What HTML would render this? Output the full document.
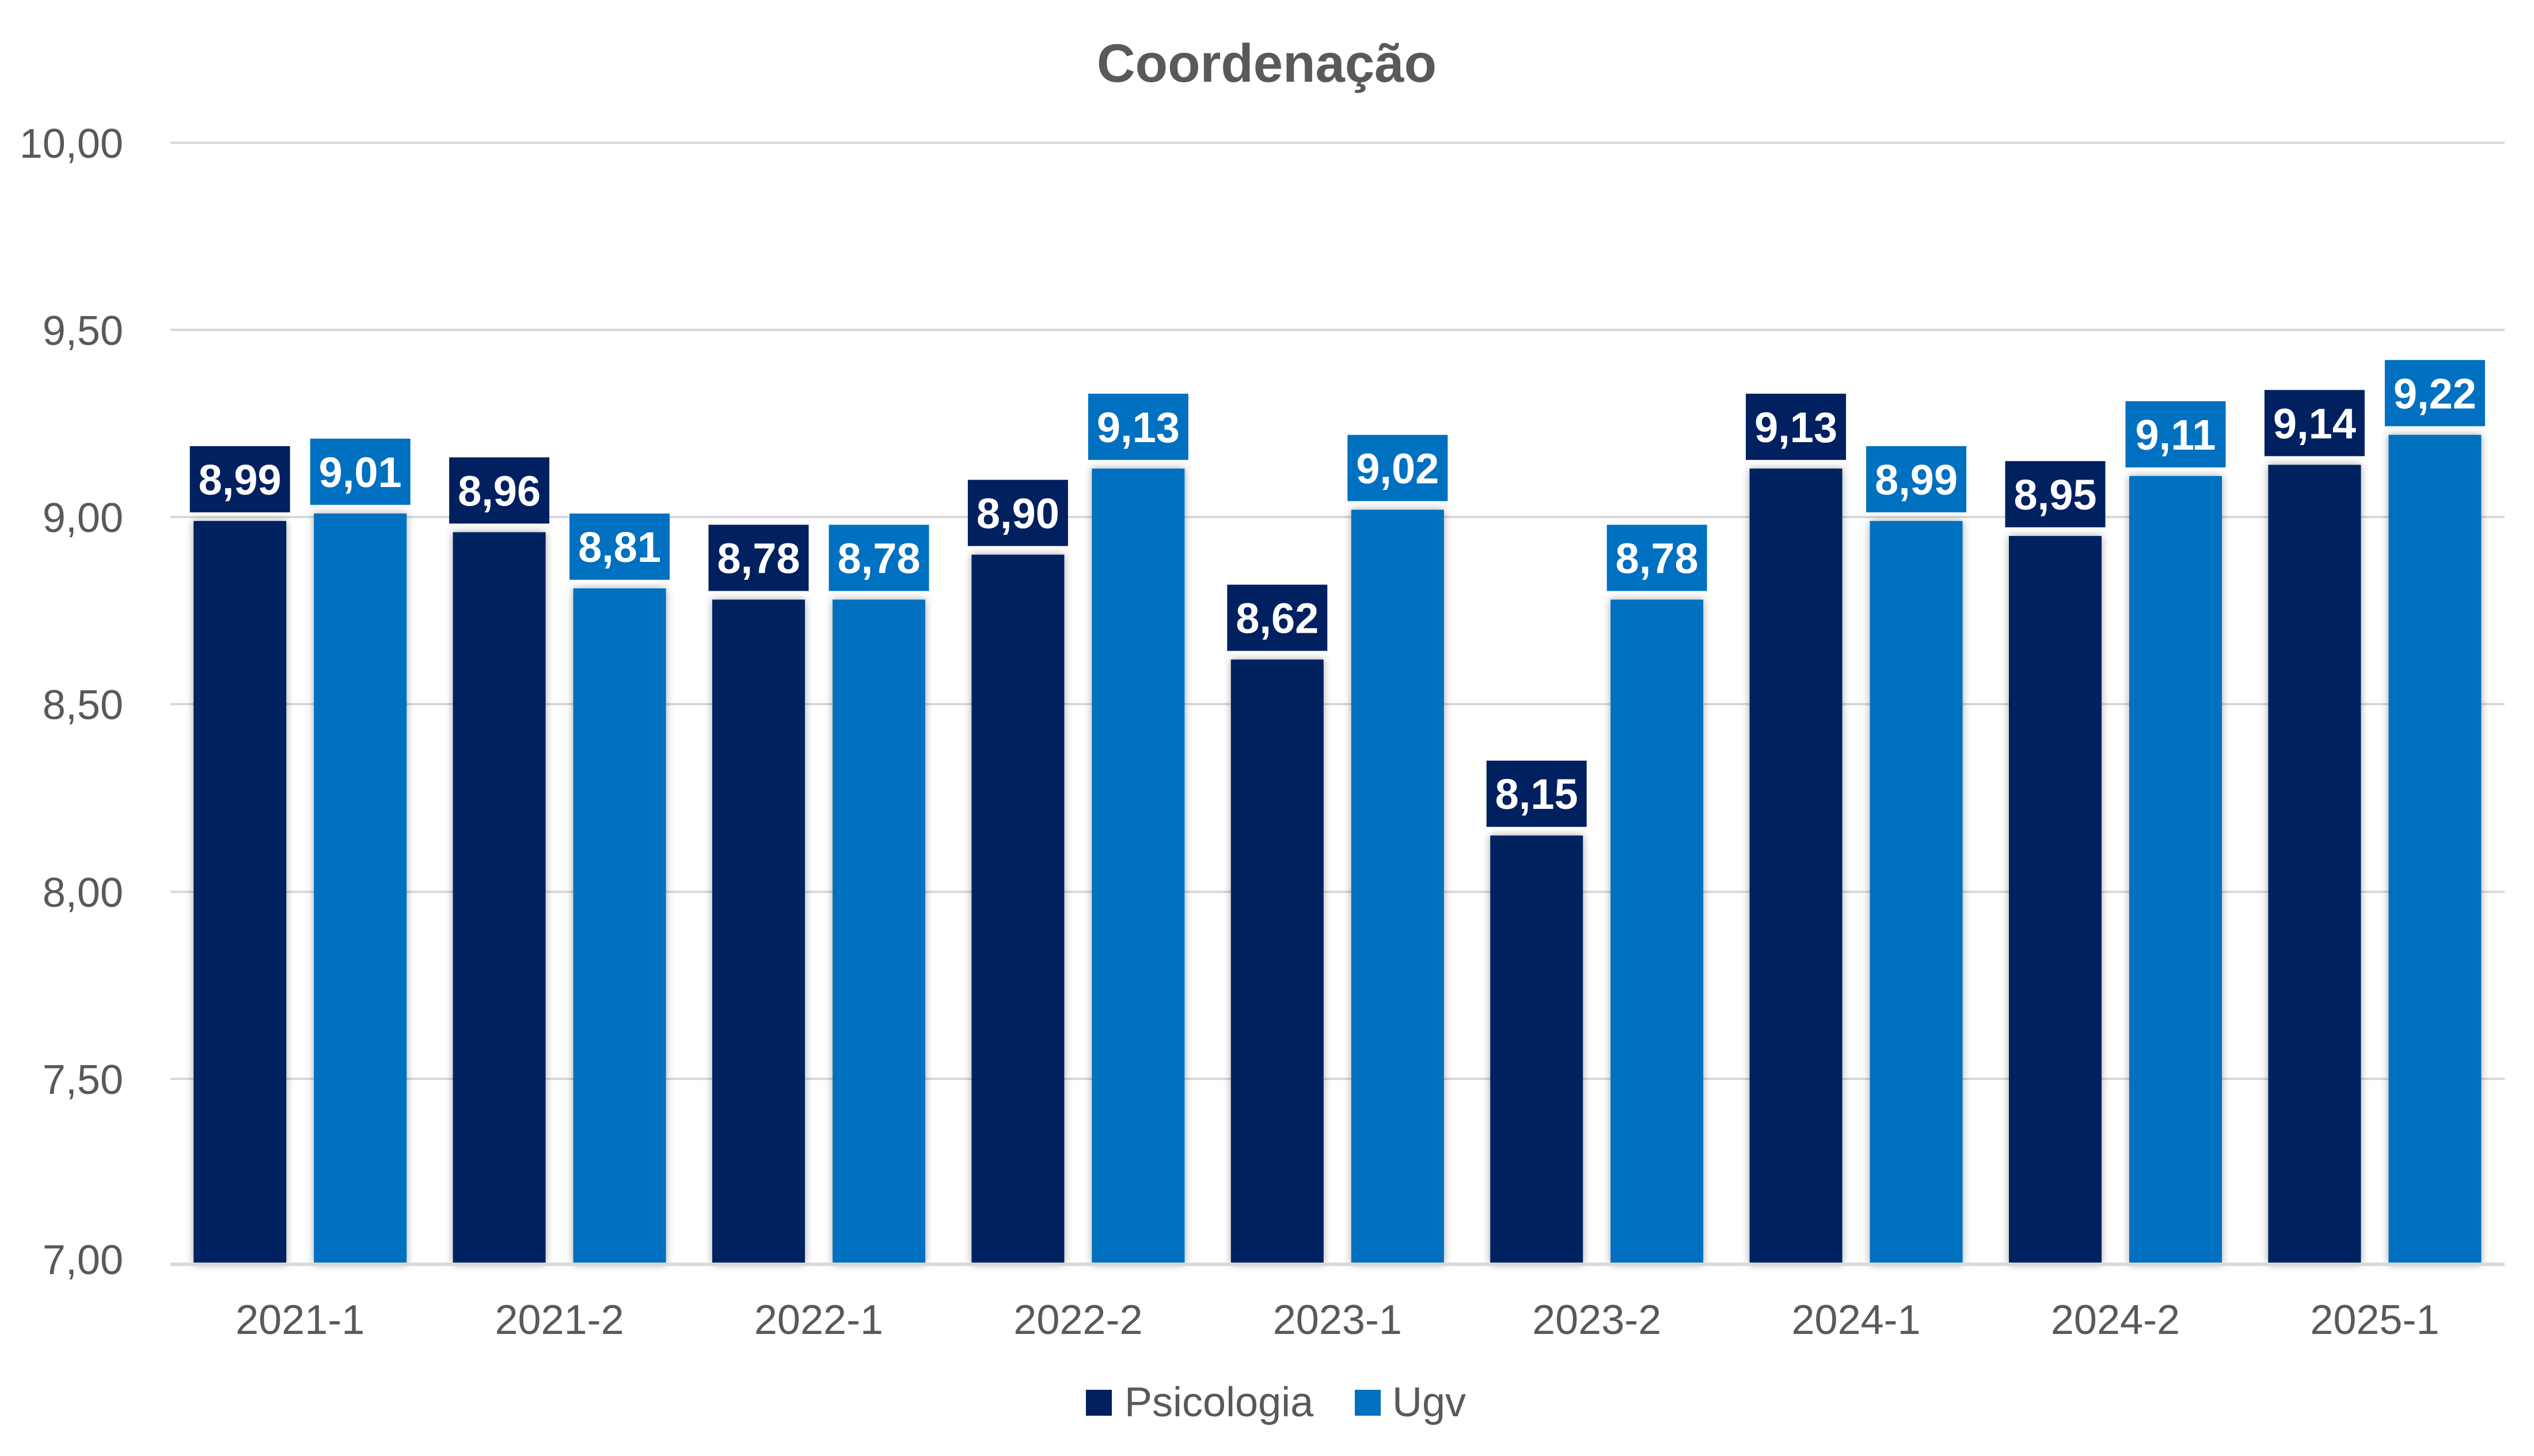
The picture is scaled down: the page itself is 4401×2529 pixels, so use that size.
<!DOCTYPE html>
<html><head><meta charset="utf-8"><style>
html,body{margin:0;padding:0;background:#fff;}
svg{display:block;}
text{font-family:"Liberation Sans",sans-serif;}
</style></head><body>
<svg width="4401" height="2529" viewBox="0 0 4401 2529" xmlns="http://www.w3.org/2000/svg">
<defs>
<filter id="sh" x="-20%" y="-5%" width="140%" height="110%">
<feDropShadow dx="0" dy="0" stdDeviation="7" flood-color="#000" flood-opacity="0.35"/>
</filter>
</defs>
<rect width="4401" height="2529" fill="#fff"/>
<text x="2200" y="142" text-anchor="middle" font-size="94" font-weight="bold" fill="#595959" textLength="590" lengthAdjust="spacingAndGlyphs">Coordenação</text>
<g stroke="#d9d9d9" stroke-width="4">
<line x1="296" y1="248" x2="4350" y2="248"/>
<line x1="296" y1="573" x2="4350" y2="573"/>
<line x1="296" y1="898" x2="4350" y2="898"/>
<line x1="296" y1="1223" x2="4350" y2="1223"/>
<line x1="296" y1="1549" x2="4350" y2="1549"/>
<line x1="296" y1="1874" x2="4350" y2="1874"/>
</g>
<g font-size="72" fill="#595959" text-anchor="end">
<text x="214" y="274">10,00</text>
<text x="214" y="599">9,50</text>
<text x="214" y="924">9,00</text>
<text x="214" y="1249">8,50</text>
<text x="214" y="1575">8,00</text>
<text x="214" y="1900">7,50</text>
<text x="214" y="2213">7,00</text>
</g>
<g id="bars"></g>
<line x1="296" y1="2196" x2="4350" y2="2196" stroke="#d9d9d9" stroke-width="6"/>
<g font-size="72" fill="#595959" text-anchor="middle" id="xl"></g>
<rect x="1886" y="2414" width="45" height="45" fill="#002060"/>
<text x="1953" y="2460" font-size="72" fill="#595959">Psicologia</text>
<rect x="2353" y="2414" width="45" height="45" fill="#0070c0"/>
<text x="2418" y="2460" font-size="72" fill="#595959">Ugv</text>
<script>
var cats=["2021-1","2021-2","2022-1","2022-2","2023-1","2023-2","2024-1","2024-2","2025-1"];
var a=[8.99,8.96,8.78,8.90,8.62,8.15,9.13,8.95,9.14];
var b=[9.01,8.81,8.78,9.13,9.02,8.78,8.99,9.11,9.22];
var ns="http://www.w3.org/2000/svg";
var g=document.getElementById("bars"),xl=document.getElementById("xl");
function el(t,at,p){var e=document.createElementNS(ns,t);for(var k in at)e.setAttribute(k,at[k]);p.appendChild(e);return e;}
function y(v){return 248+(10-v)*650.4;}
function bar(cx,v,col){
 var t=y(v);
 el("rect",{x:cx-80.5,y:t,width:161,height:2196-t,fill:col,filter:"url(#sh)"},g);
 el("rect",{x:cx-87,y:t-15-115,width:174,height:115,fill:col},g);
 var tx=el("text",{x:cx,y:t-15-31,"text-anchor":"middle","font-size":"74","font-weight":"bold",fill:"#fff"},g);
 tx.textContent=v.toFixed(2).replace(".",",");
}
for(var i=0;i<9;i++){
 var c=296+(i+0.5)*450.4;
 bar(c-104.5,a[i],"#002060");
 bar(c+104.5,b[i],"#0070c0");
 var t=el("text",{x:c,y:2317},xl);t.textContent=cats[i];
}
</script>
</svg>
</body></html>
